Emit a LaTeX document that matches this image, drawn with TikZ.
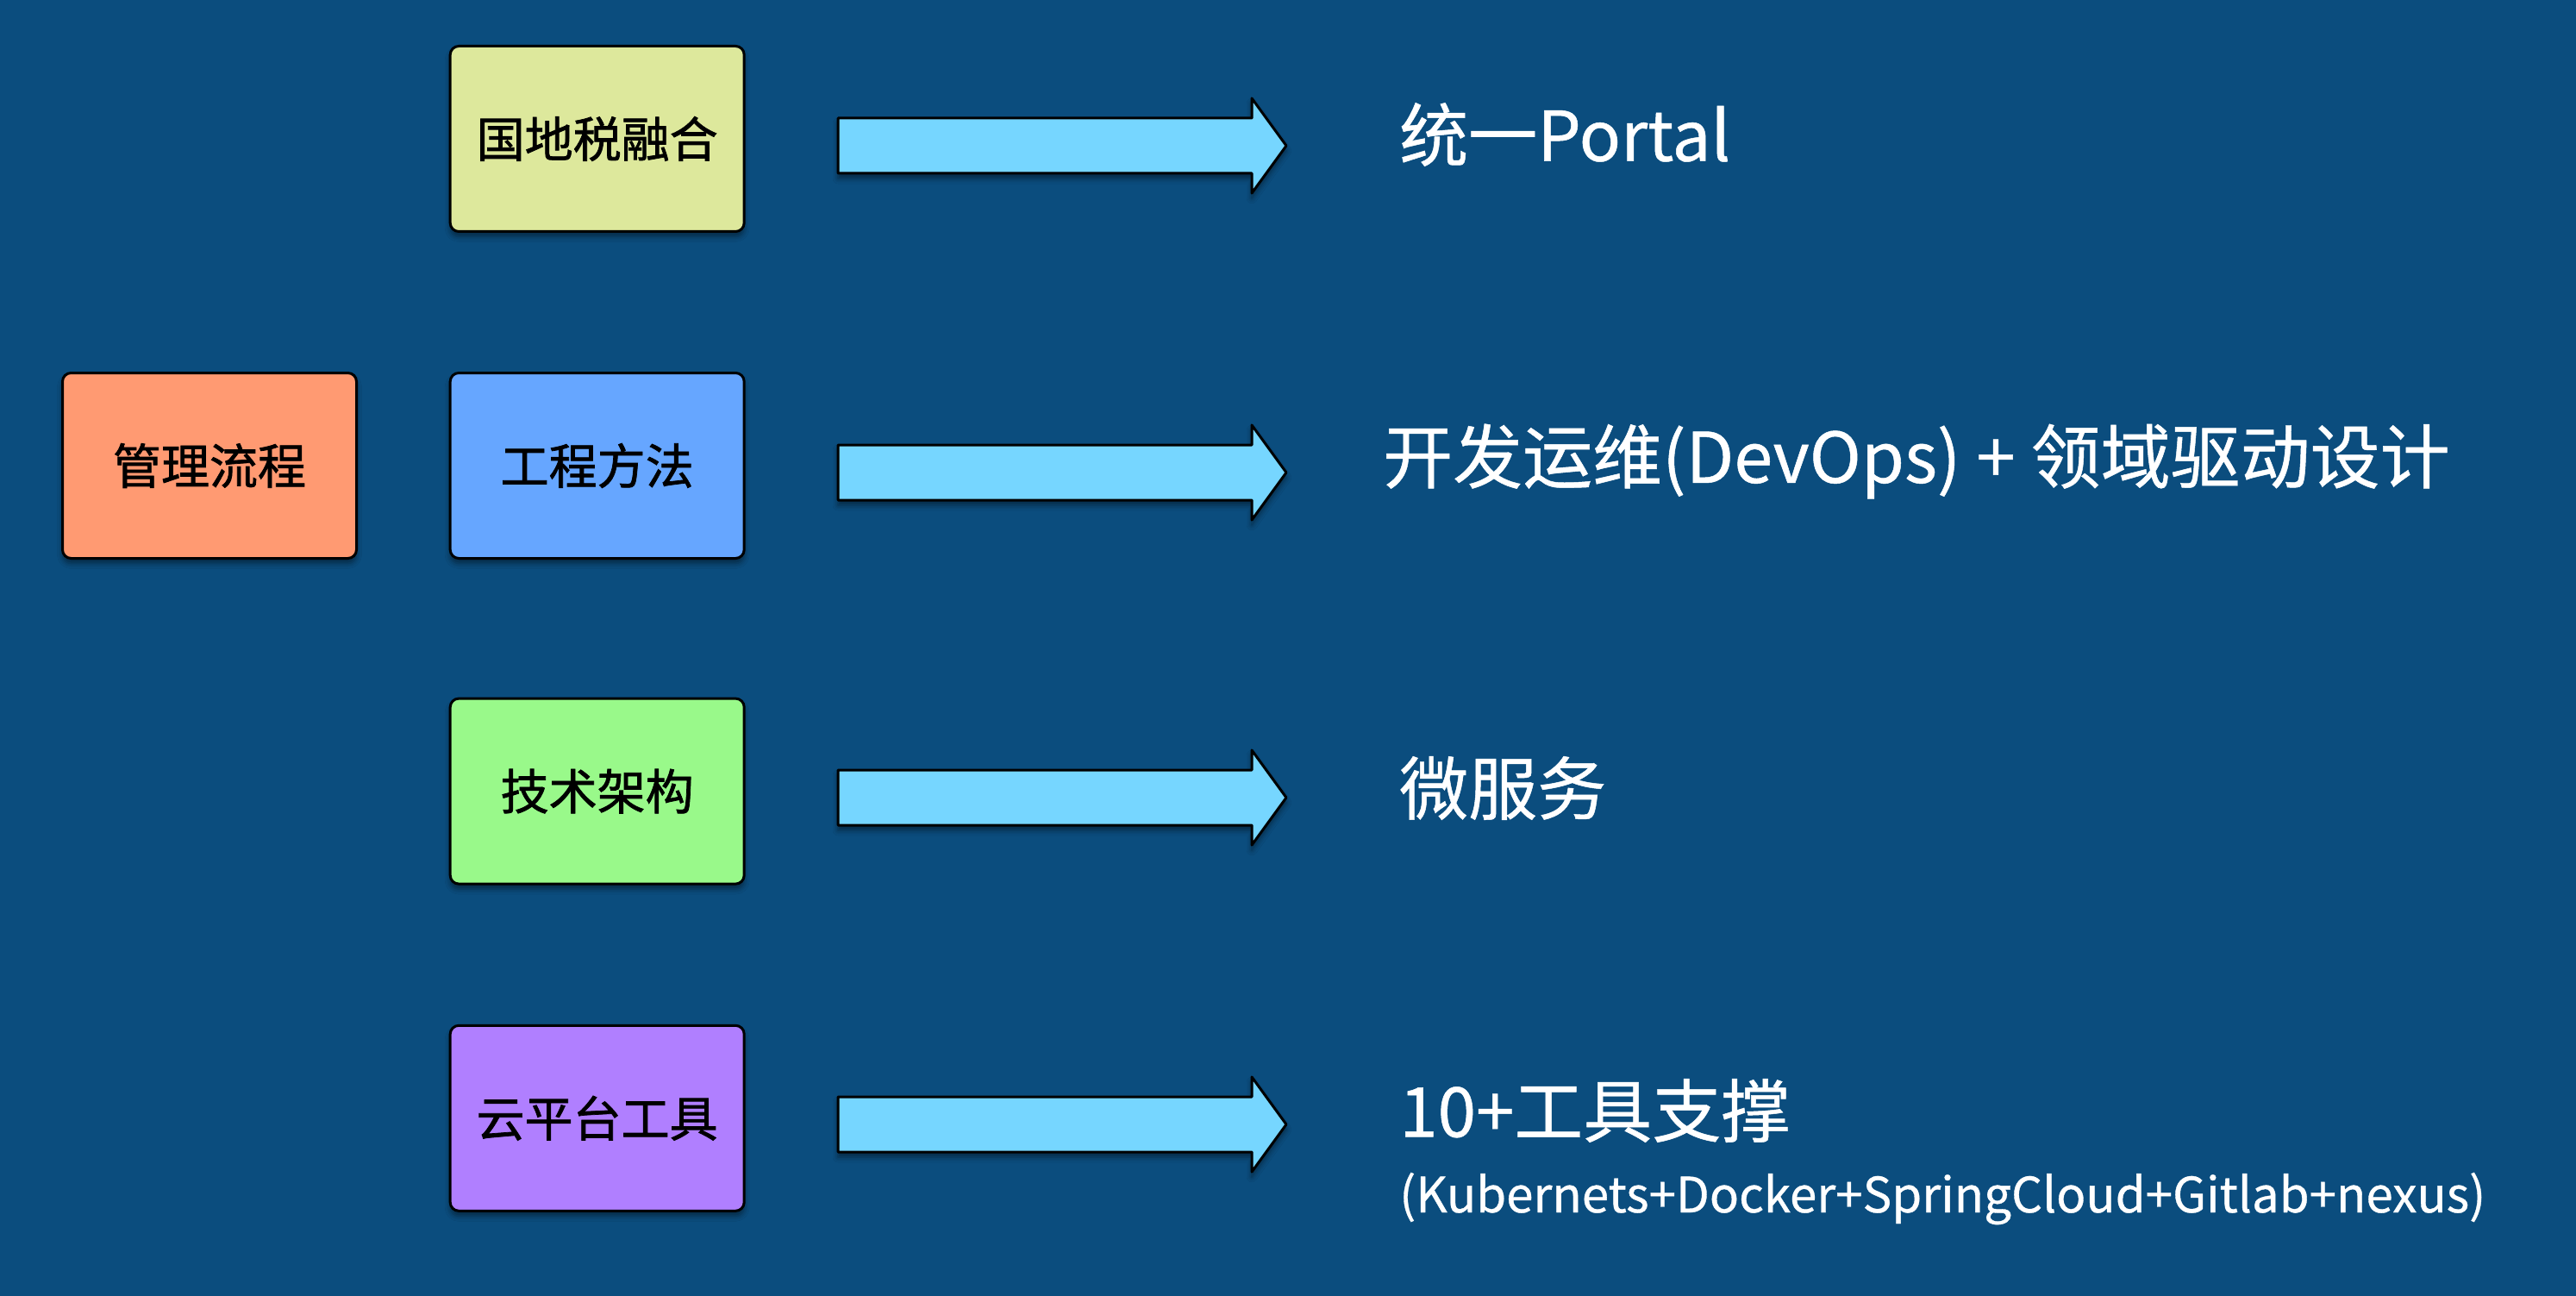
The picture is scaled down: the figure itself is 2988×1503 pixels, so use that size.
\documentclass[tikz,border=0pt]{standalone}
\usepackage{fontspec}
\setmainfont{Noto Sans CJK SC}
\newfontfamily\boxfont[FakeBold=1.3]{Noto Sans CJK SC}
\newfontfamily\whitefont[FakeBold=0.6]{Noto Sans CJK SC}
\usetikzlibrary{shadows.blur}
\definecolor{bgc}{RGB}{11,77,126}
\definecolor{arrc}{RGB}{118,214,255}
\definecolor{cyel}{RGB}{221,232,156}
\definecolor{cora}{RGB}{255,154,114}
\definecolor{cblu}{RGB}{102,166,255}
\definecolor{cgrn}{RGB}{153,249,138}
\definecolor{cpur}{RGB}{176,127,255}
\tikzset{
  box/.style={draw=black, line width=3pt, rounded corners=10pt, minimum width=341pt, minimum height=215pt, inner sep=0pt,
    font=\boxfont\fontsize{56}{60}\selectfont, text=black,
    blur shadow={shadow xshift=0pt, shadow yshift=-6pt, shadow blur radius=6pt, shadow opacity=45}},
  big/.style={anchor=west, inner sep=0pt, text=white, font=\whitefont\fontsize{80}{90}\selectfont},
  small/.style={anchor=west, inner sep=0pt, text=white, font=\whitefont\fontsize{56.5}{60}\selectfont},
  blockarrow/.style={draw=black, line width=3pt, fill=arrc, line join=round,
    blur shadow={shadow xshift=0pt, shadow yshift=-6pt, shadow blur radius=6pt, shadow opacity=45}}
}
\newcommand{\blockarr}[2]{% name, y
  \coordinate (#1s) at (972,#2);
  \coordinate (#1t) at (1492,#2);
  \path[blockarrow] (972,#2-32) -- (1452,#2-32) -- (1452,#2-55) -- (#1t) -- (1452,#2+55) -- (1452,#2+32) -- (972,#2+32) -- cycle;
}
\begin{document}
\begin{tikzpicture}[x=1pt,y=-1pt]
\useasboundingbox (0,0) rectangle (2988,1503);
\fill[bgc] (0,0) rectangle (2988,1503);
\node[box, fill=cyel] (b1) at (692.7,161) {国地税融合};
\node[box, fill=cblu] (b2) at (692.7,540) {工程方法};
\node[box, fill=cgrn] (b3) at (692.7,917.6) {技术架构};
\node[box, fill=cpur] (b4) at (692.7,1296.8) {云平台工具};
\node[box, fill=cora] (b0) at (243,540) {管理流程};
\blockarr{a1}{169}
\blockarr{a2}{548}
\blockarr{a3}{925}
\blockarr{a4}{1304}
\node[big] (t1) at (1623,156) {统一Portal};
\node[big, font=\whitefont\fontsize{81}{90}\selectfont] (t2) at (1604,535) {开发运维(DevOps) + 领域驱动设计};
\node[big] (t3) at (1623,914) {微服务};
\node[big] (t4) at (1623,1288) {10+工具支撑};
\node[small] (t5) at (1623,1390) {(Kubernets+Docker+SpringCloud+Gitlab+nexus)};
\end{tikzpicture}
\end{document}
